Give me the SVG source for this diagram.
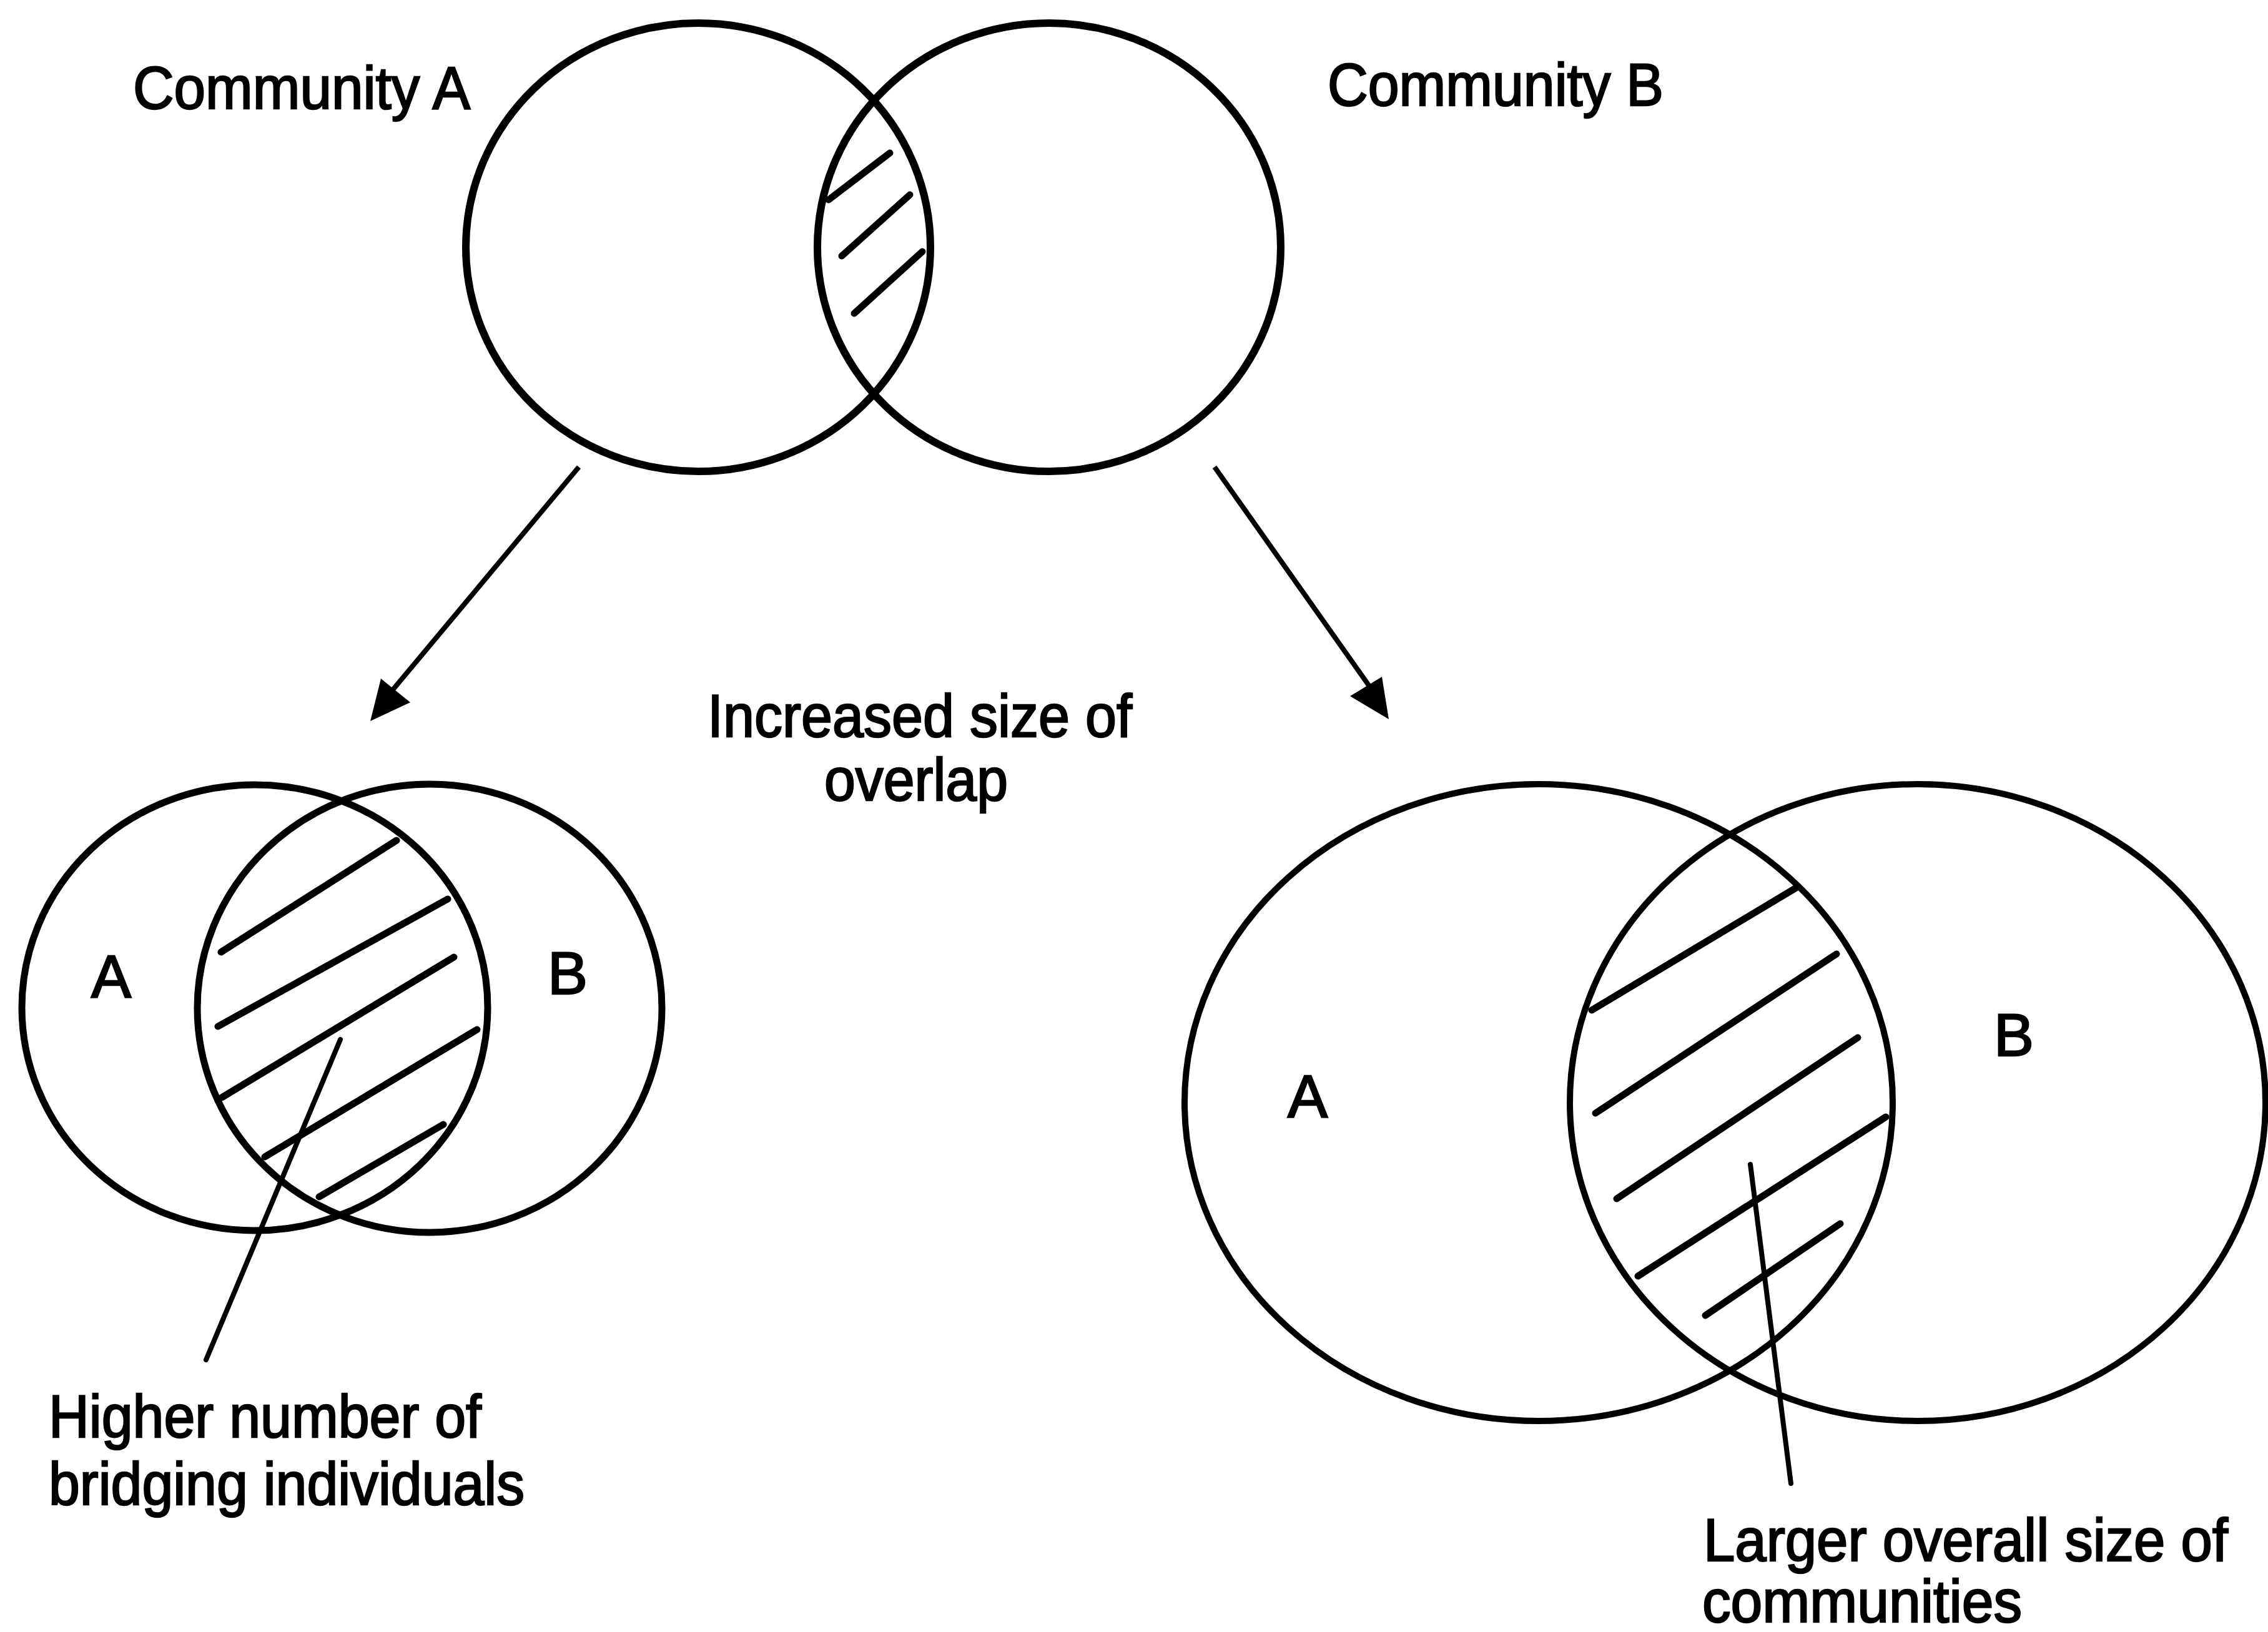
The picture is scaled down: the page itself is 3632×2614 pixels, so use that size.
<svg xmlns="http://www.w3.org/2000/svg" width="3632" height="2614" viewBox="0 0 3632 2614">
<style>
.c{fill:none;stroke:#000;stroke-width:12}
.c2{fill:none;stroke:#000;stroke-width:11}
.c3{fill:none;stroke:#000;stroke-width:10}
.h{fill:none;stroke:#000;stroke-width:11;stroke-linecap:round}
.p{fill:none;stroke:#000;stroke-width:8;stroke-linecap:round}
.a{fill:none;stroke:#000;stroke-width:8}
.t{font-family:"Liberation Sans",Arial,sans-serif;font-size:96px;fill:#000;stroke:#000;stroke-width:2.5}
</style>
<rect width="3632" height="2614" fill="#fff"/>
<g id="top-venn">
  <ellipse class="c" cx="1118" cy="396" rx="372" ry="359"/>
  <ellipse class="c" cx="1680" cy="396" rx="371" ry="359"/>
  <line class="h" x1="1327" y1="320" x2="1425" y2="245"/>
  <line class="h" x1="1348" y1="410" x2="1457" y2="312"/>
  <line class="h" x1="1368" y1="502" x2="1477" y2="403"/>
  <text class="t" x="213" y="174" textLength="540" lengthAdjust="spacingAndGlyphs">Community A</text>
  <text class="t" x="2126" y="169" textLength="538" lengthAdjust="spacingAndGlyphs">Community B</text>
</g>
<g id="overlap-label">
  <text class="t" x="1133" y="1180" textLength="680" lengthAdjust="spacingAndGlyphs">Increased size of</text>
  <text class="t" x="1320" y="1282" textLength="294" lengthAdjust="spacingAndGlyphs">overlap</text>
</g>
<g id="left-venn">
  <ellipse class="c2" cx="408" cy="1614" rx="373" ry="357"/>
  <ellipse class="c2" cx="688" cy="1615" rx="372" ry="359"/>
  <line class="h" x1="354" y1="1525" x2="635" y2="1346"/>
  <line class="h" x1="349" y1="1644" x2="717" y2="1440"/>
  <line class="h" x1="355" y1="1758" x2="727" y2="1533"/>
  <line class="h" x1="424" y1="1853" x2="764" y2="1649"/>
  <line class="h" x1="511" y1="1917" x2="710" y2="1801"/>
  <text class="t" x="146" y="1597">A</text>
  <text class="t" x="877" y="1592">B</text>
</g>
<g id="left-label">
  <text class="t" x="78" y="2302" textLength="693" lengthAdjust="spacingAndGlyphs">Higher number of</text>
  <text class="t" x="78" y="2410" textLength="762" lengthAdjust="spacingAndGlyphs">bridging individuals</text>
</g>
<g id="right-venn">
  <ellipse class="c3" cx="2464" cy="1766" rx="567" ry="510"/>
  <ellipse class="c3" cx="3071" cy="1766" rx="557" ry="510"/>
  <line class="h" x1="2549" y1="1618" x2="2878" y2="1421"/>
  <line class="h" x1="2555" y1="1783" x2="2941" y2="1528"/>
  <line class="h" x1="2589" y1="1920" x2="2975" y2="1662"/>
  <line class="h" x1="2623" y1="2044" x2="3020" y2="1789"/>
  <line class="h" x1="2731" y1="2107" x2="2947" y2="1960"/>
  <text class="t" x="2062" y="1789">A</text>
  <text class="t" x="3193" y="1691">B</text>
</g>
<g id="right-label">
  <text class="t" x="2728" y="2500" textLength="840" lengthAdjust="spacingAndGlyphs">Larger overall size of</text>
  <text class="t" x="2726" y="2598" textLength="512" lengthAdjust="spacingAndGlyphs">communities</text>
</g>
<g id="connectors">
  <line class="a" x1="927" y1="748" x2="628" y2="1106"/>
  <polygon points="593,1155 610,1087 657,1125"/>
  <line class="a" x1="1945" y1="748" x2="2195" y2="1102"/>
  <polygon points="2224,1152 2213,1084 2162,1115"/>
  <line class="p" x1="545" y1="1665" x2="330" y2="2178"/>
  <line class="p" x1="2803" y1="1865" x2="2868" y2="2376"/>
</g>
</svg>
